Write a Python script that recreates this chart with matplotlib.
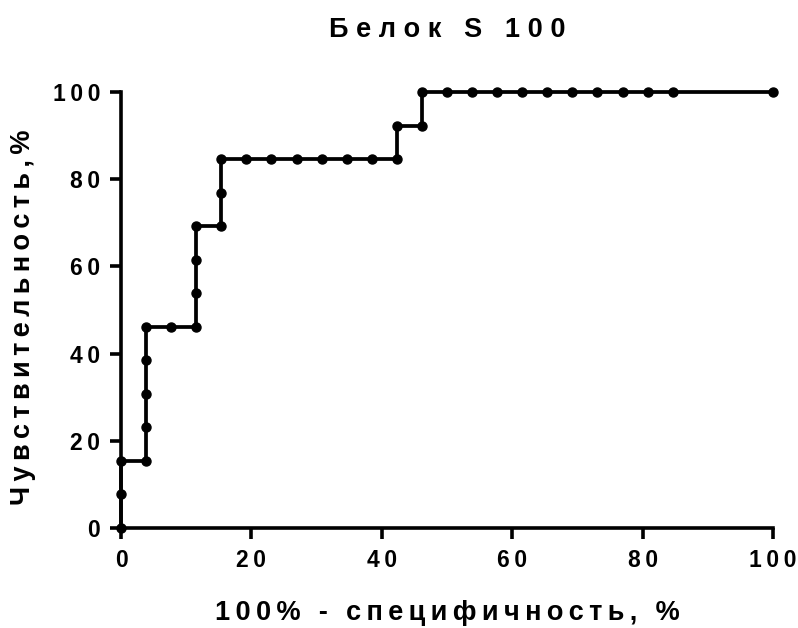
import matplotlib
matplotlib.use("Agg")
import matplotlib.pyplot as plt

plt.rcParams["font.family"] = ["Liberation Sans", "DejaVu Sans"]
plt.rcParams["font.weight"] = "bold"

# ROC curve points (%)
fpr = [0, 0, 0, 3.85, 3.85, 3.85, 3.85, 3.85, 7.69, 11.54, 11.54, 11.54, 11.54,
       15.38, 15.38, 15.38, 19.23, 23.08, 26.92, 30.77, 34.62, 38.46, 42.31,
       42.31, 46.15, 46.15, 50.0, 53.85, 57.69, 61.54, 65.38, 69.23, 73.08,
       76.92, 80.77, 84.62, 100]
tpr = [0, 7.69, 15.38, 15.38, 23.08, 30.77, 38.46, 46.15, 46.15, 46.15, 53.85,
       61.54, 69.23, 69.23, 76.92, 84.62, 84.62, 84.62, 84.62, 84.62, 84.62,
       84.62, 84.62, 92.31, 92.31, 100, 100, 100, 100, 100, 100, 100, 100, 100,
       100, 100, 100]

ticks = [0, 20, 40, 60, 80, 100]
tick_labels = ["0", "20", "40", "60", "80", "100"]
title = "Белок S 100"
xlabel = "100% - специфичность, %"
ylabel = "Чувствительность,%"


def spaced(s, gap="\u2009"):
    # Prism-style letter spacing
    return gap.join(s)


W, H = 798, 628
fig = plt.figure(figsize=(W / 100, H / 100), dpi=100)
ax = fig.add_axes([121 / W, 1 - 528 / H, (773 - 121) / W, (528 - 92) / H])

ax.plot(fpr, tpr, color="black", lw=2.7, marker="o", ms=6.5, clip_on=False, zorder=3)

ax.set_xlim(0, 100)
ax.set_ylim(0, 100)
ax.set_xticks(ticks)
ax.set_yticks(ticks)
ax.set_xticklabels([spaced(t) for t in tick_labels])
ax.set_yticklabels([spaced(t) for t in tick_labels])
ax.tick_params(length=8, width=2.6, pad=7, labelsize=16.5, color="black")
for lab in ax.get_xticklabels() + ax.get_yticklabels():
    lab.set_fontweight("bold")

for side in ["top", "right"]:
    ax.spines[side].set_visible(False)
for side in ["left", "bottom"]:
    ax.spines[side].set_linewidth(2.6)

cx = (121 + 773) / 2 / W
fig.text(cx, 1 - 30 / H, spaced(title, "\u2009\u200a"), ha="center", va="center",
         fontsize=19.5, fontweight="bold")
fig.text(cx, 1 - 613 / H, spaced(xlabel), ha="center", va="center",
         fontsize=19.5, fontweight="bold")
fig.text(23 / W, 1 - 317 / H, spaced(ylabel), ha="center", va="center",
         rotation=90, fontsize=19.5, fontweight="bold")

fig.savefig("out.png", dpi=100)
